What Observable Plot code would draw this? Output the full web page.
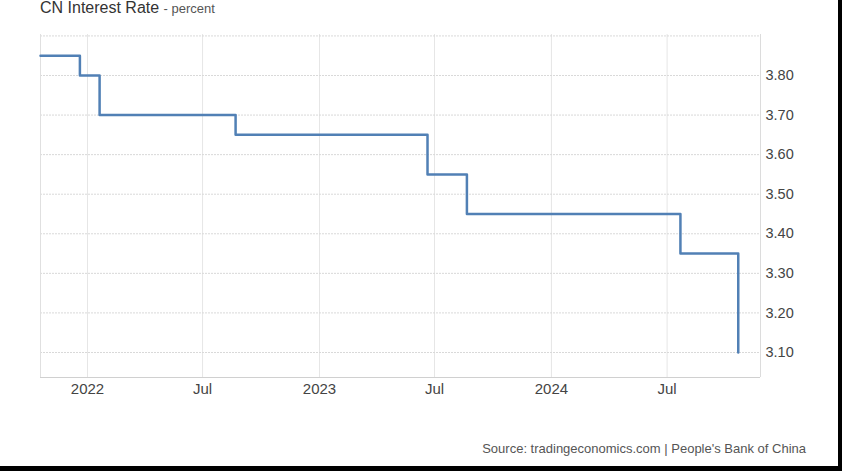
<!DOCTYPE html>
<html>
<head>
<meta charset="utf-8">
<script src="https://cdn.jsdelivr.net/npm/d3@7"></script>
<script src="https://cdn.jsdelivr.net/npm/@observablehq/plot@0.6"></script>
<style>
  html, body { margin: 0; padding: 0; background: #fff; }
  #wrap { position: relative; width: 842px; height: 474px; overflow: hidden; font-family: "Liberation Sans", Arial, sans-serif; }
  #title { position: absolute; left: 40px; top: -1px; font-size: 16px; color: #333; white-space: nowrap; }
  #title span { font-size: 13px; color: #555; }
  #source { position: absolute; right: 36px; top: 441px; font-size: 13px; color: #555; white-space: nowrap; }
  #chart { position: absolute; left: 0; top: 0; }
  #bR { position: absolute; left: 838px; top: 0; width: 4px; height: 471px; background: #000; }
  #bB { position: absolute; left: 0; top: 466px; width: 842px; height: 5px; background: #000; }
</style>
</head>
<body>
<div id="wrap">
  <div id="chart"></div>
  <div id="title">CN Interest Rate <span>- percent</span></div>
  <div id="source">Source: tradingeconomics.com | People's Bank of China</div>
  <div id="bR"></div>
  <div id="bB"></div>
</div>
<script>
// Step dates (rate changes) and values
const dates = ["2021-10-19", "2021-12-20", "2022-01-20", "2022-08-22", "2023-06-20", "2023-08-21", "2024-07-22", "2024-10-21"];
const rates = [3.85, 3.80, 3.70, 3.65, 3.55, 3.45, 3.35, 3.10];

const xTickDates = ["2022-01-01", "2022-07-01", "2023-01-01", "2023-07-01", "2024-01-01", "2024-07-01"];
const xTickLabels = ["2022", "Jul", "2023", "Jul", "2024", "Jul"];
const yTicks = [3.10, 3.20, 3.30, 3.40, 3.50, 3.60, 3.70, 3.80];
const yGrid = [3.10, 3.20, 3.30, 3.40, 3.50, 3.60, 3.70, 3.80, 3.90];

const data = dates.map((d, i) => ({date: new Date(d + "T00:00:00Z"), rate: rates[i]}));
const xt = xTickDates.map(d => new Date(d + "T00:00:00Z"));
const labelOf = new Map(xt.map((d, i) => [+d, xTickLabels[i]]));

const xDomain = [new Date("2021-10-19T00:00:00Z"), new Date("2024-11-25T00:00:00Z")];
const yDomain = [3.0368, 3.9036];

const chart = Plot.plot({
  width: 842,
  height: 474,
  marginLeft: 40,
  marginRight: 82,
  marginTop: 34,
  marginBottom: 97,
  style: {fontFamily: "'Liberation Sans', Arial, sans-serif", fontSize: "15px", color: "#444", background: "transparent"},
  x: {type: "utc", domain: xDomain},
  y: {domain: yDomain},
  marks: [
    Plot.ruleX(xt, {stroke: "#e6e6e6", strokeWidth: 1}),
    Plot.ruleY(yGrid, {stroke: "#d9d9d9", strokeWidth: 1, strokeDasharray: "2,1"}),
    Plot.ruleX([xDomain[0]], {stroke: "#e0e0e0"}),
    Plot.ruleX([xDomain[1]], {stroke: "#dcdcdc"}),
    Plot.ruleY([yDomain[0]], {stroke: "#d0d0d0"}),
    Plot.line(data, {x: "date", y: "rate", curve: "step-after", stroke: "#5180b5", strokeWidth: 2.5}),
    Plot.axisX(xt, {tickSize: 0, tickPadding: 6, tickFormat: d => labelOf.get(+d), fill: "#444", fontSize: 15, label: null}),
    Plot.axisY(yTicks, {anchor: "right", tickSize: 0, tickPadding: 5, tickFormat: d => d.toFixed(2), fill: "#444", fontSize: 14.5, label: null})
  ]
});
document.getElementById("chart").appendChild(chart);
</script>
</body>
</html>
